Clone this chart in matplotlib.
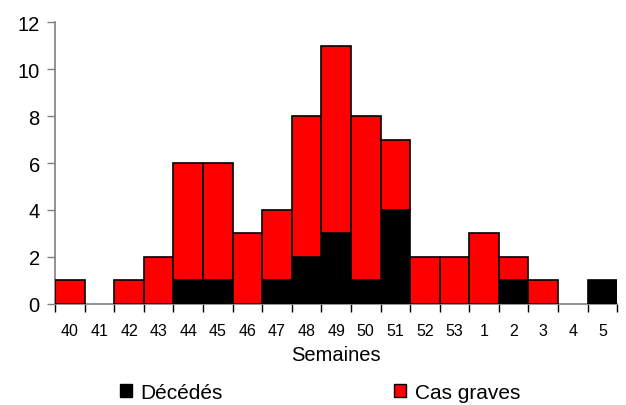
import matplotlib

matplotlib.use("Agg")
import matplotlib.pyplot as plt
import numpy as np
from matplotlib.patches import Patch

# Weekly counts (weeks 40..53 then 1..5 of the following year)
weeks = ["40", "41", "42", "43", "44", "45", "46", "47", "48", "49",
         "50", "51", "52", "53", "1", "2", "3", "4", "5"]
deces = [0, 0, 0, 0, 1, 1, 0, 1, 2, 3, 1, 4, 0, 0, 0, 1, 0, 0, 1]
cas_graves = [1, 0, 1, 2, 5, 5, 3, 3, 6, 8, 7, 3, 2, 2, 3, 1, 1, 0, 0]

plt.rcParams["font.family"] = ["Liberation Sans", "DejaVu Sans"]

fig = plt.figure(figsize=(6.26, 4.06), dpi=100)
ax = fig.add_axes([0.088, 0.249, 0.898, 0.694])

x = np.arange(len(weeks))
lw_d = [1.2 if v > 0 else 0 for v in deces]
lw_g = [1.2 if v > 0 else 0 for v in cas_graves]
ax.bar(x, deces, width=1.0, color="black", edgecolor="black", linewidth=lw_d, zorder=3)
ax.bar(x, cas_graves, width=1.0, bottom=deces, color="#ff0000",
       edgecolor="black", linewidth=lw_g, zorder=3)

ax.set_xlim(-0.5, len(weeks) - 0.5)
ax.set_ylim(0, 12)
ax.set_yticks(range(0, 13, 2))
ax.tick_params(axis="y", labelsize=14.5, length=6, width=1, color="#808080", pad=5)

ax.set_xticks(x)
ax.set_xticklabels(weeks)
ax.set_xticks(np.arange(-0.5, len(weeks)), minor=True)
ax.tick_params(axis="x", which="major", length=0, labelsize=11.5, pad=14)
ax.tick_params(axis="x", which="minor", length=6, width=1, color="#000000")

for side in ("top", "right"):
    ax.spines[side].set_visible(False)
for side in ("left", "bottom"):
    ax.spines[side].set_color("#808080")
    ax.spines[side].set_linewidth(1.2)

ax.set_xlabel("Semaines", fontsize=14.5, labelpad=5)

handles = [
    Patch(facecolor="black", edgecolor="black", label="Décédés"),
    Patch(facecolor="#ff0000", edgecolor="black", label="Cas graves"),
]
fig.legend(handles=handles, loc="center", bbox_to_anchor=(0.511, 0.032), ncol=2,
           frameon=False, fontsize=15, handlelength=0.6, handleheight=0.6,
           handletextpad=0.4, columnspacing=8.2, borderpad=0)

fig.savefig("out.png", dpi=100)
